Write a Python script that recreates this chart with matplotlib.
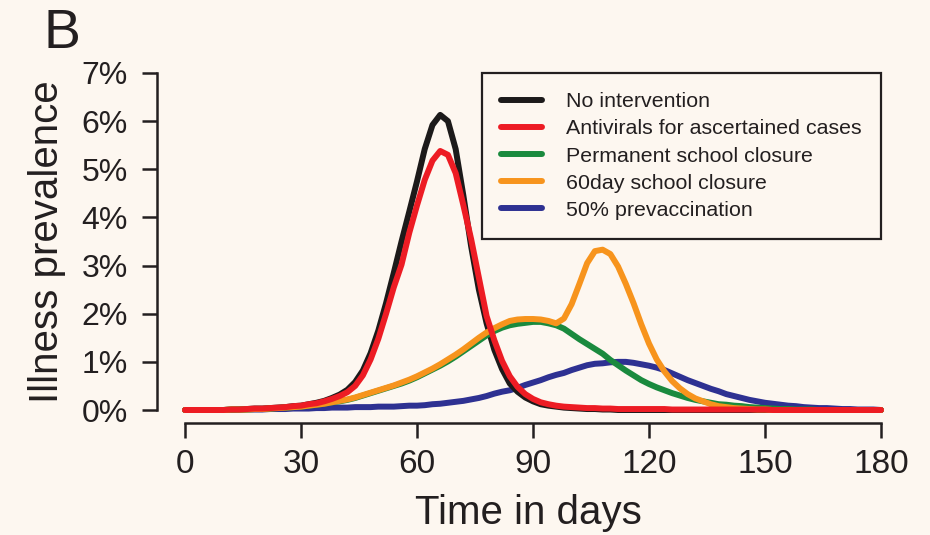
import matplotlib
matplotlib.use("Agg")
import matplotlib.pyplot as plt
from matplotlib.ticker import FixedLocator, FuncFormatter

# Simulated illness prevalence (%) every second day for each intervention scenario
days = list(range(0, 181, 2))

no_intervention = [
    0.00, 0.00, 0.00, 0.00, 0.00, 0.00, 0.01, 0.01, 0.02, 0.03,
    0.03, 0.04, 0.05, 0.06, 0.08, 0.09, 0.12, 0.15, 0.19, 0.25,
    0.32, 0.42, 0.58, 0.82, 1.18, 1.65, 2.22, 2.85, 3.50, 4.12,
    4.75, 5.42, 5.92, 6.13, 6.00, 5.42, 4.45, 3.40, 2.50, 1.80,
    1.25, 0.85, 0.55, 0.38, 0.26, 0.18, 0.12, 0.09, 0.07, 0.05,
    0.04, 0.03, 0.02, 0.02, 0.01, 0.01, 0.00, 0.00, 0.00, 0.00,
    0.00, 0.00, 0.00, 0.00, 0.00, 0.00, 0.00, 0.00, 0.00, 0.00,
    0.00, 0.00, 0.00, 0.00, 0.00, 0.00, 0.00, 0.00, 0.00, 0.00,
    0.00, 0.00, 0.00, 0.00, 0.00, 0.00, 0.00, 0.00, 0.00, 0.00,
    0.00,
]
antivirals = [
    0.00, 0.00, 0.00, 0.00, 0.00, 0.00, 0.01, 0.01, 0.02, 0.03,
    0.03, 0.04, 0.05, 0.06, 0.08, 0.09, 0.12, 0.14, 0.18, 0.23,
    0.29, 0.37, 0.50, 0.72, 1.05, 1.48, 2.00, 2.55, 3.02, 3.68,
    4.25, 4.78, 5.18, 5.38, 5.30, 4.92, 4.25, 3.55, 2.75, 1.95,
    1.45, 1.02, 0.70, 0.48, 0.33, 0.23, 0.16, 0.12, 0.09, 0.07,
    0.06, 0.05, 0.04, 0.04, 0.03, 0.03, 0.02, 0.02, 0.02, 0.02,
    0.02, 0.02, 0.02, 0.01, 0.01, 0.01, 0.01, 0.01, 0.01, 0.01,
    0.01, 0.01, 0.01, 0.01, 0.01, 0.01, 0.00, 0.00, 0.00, 0.00,
    0.00, 0.00, 0.00, 0.00, 0.00, 0.00, 0.00, 0.00, 0.00, 0.00,
    0.00,
]
permanent_closure = [
    0.00, 0.00, 0.00, 0.00, 0.00, 0.00, 0.01, 0.01, 0.01, 0.02,
    0.02, 0.03, 0.04, 0.05, 0.06, 0.07, 0.09, 0.11, 0.13, 0.16,
    0.18, 0.21, 0.25, 0.30, 0.35, 0.40, 0.45, 0.50, 0.55, 0.61,
    0.68, 0.76, 0.84, 0.92, 1.01, 1.11, 1.22, 1.33, 1.44, 1.55,
    1.64, 1.71, 1.76, 1.79, 1.81, 1.83, 1.83, 1.80, 1.76, 1.69,
    1.58, 1.47, 1.37, 1.27, 1.17, 1.04, 0.93, 0.82, 0.72, 0.62,
    0.54, 0.47, 0.41, 0.35, 0.30, 0.25, 0.21, 0.18, 0.15, 0.12,
    0.11, 0.09, 0.08, 0.06, 0.05, 0.04, 0.03, 0.02, 0.02, 0.01,
    0.01, 0.01, 0.00, 0.00, 0.00, 0.00, 0.00, 0.00, 0.00, 0.00,
    0.00,
]
closure_60day = [
    0.00, 0.00, 0.00, 0.00, 0.00, 0.00, 0.01, 0.01, 0.01, 0.02,
    0.02, 0.03, 0.04, 0.05, 0.06, 0.07, 0.09, 0.11, 0.13, 0.16,
    0.19, 0.22, 0.26, 0.31, 0.36, 0.41, 0.46, 0.51, 0.57, 0.63,
    0.70, 0.78, 0.86, 0.95, 1.05, 1.15, 1.26, 1.38, 1.50, 1.61,
    1.70, 1.78, 1.85, 1.88, 1.89, 1.89, 1.88, 1.85, 1.80, 1.90,
    2.20, 2.62, 3.05, 3.30, 3.33, 3.24, 2.98, 2.62, 2.22, 1.78,
    1.38, 1.05, 0.80, 0.60, 0.45, 0.33, 0.24, 0.18, 0.12, 0.08,
    0.06, 0.04, 0.03, 0.02, 0.01, 0.01, 0.00, 0.00, 0.00, 0.00,
    0.00, 0.00, 0.00, 0.00, 0.00, 0.00, 0.00, 0.00, 0.00, 0.00,
    0.00,
]
prevaccination = [
    0.00, 0.00, 0.00, 0.00, 0.00, 0.00, 0.00, 0.01, 0.01, 0.01,
    0.01, 0.02, 0.02, 0.02, 0.03, 0.03, 0.03, 0.04, 0.04, 0.05,
    0.05, 0.05, 0.06, 0.06, 0.06, 0.07, 0.07, 0.07, 0.08, 0.09,
    0.09, 0.10, 0.12, 0.13, 0.15, 0.17, 0.19, 0.22, 0.25, 0.29,
    0.34, 0.38, 0.41, 0.46, 0.52, 0.57, 0.62, 0.68, 0.73, 0.77,
    0.83, 0.88, 0.93, 0.96, 0.97, 0.99, 1.00, 1.00, 0.98, 0.95,
    0.92, 0.88, 0.83, 0.76, 0.69, 0.62, 0.56, 0.50, 0.44, 0.39,
    0.33, 0.29, 0.25, 0.21, 0.18, 0.15, 0.13, 0.11, 0.09, 0.08,
    0.06, 0.05, 0.04, 0.04, 0.03, 0.02, 0.02, 0.01, 0.01, 0.01,
    0.00,
]

labels = [
    "No intervention",
    "Antivirals for ascertained cases",
    "Permanent school closure",
    "60day school closure",
    "50% prevaccination",
]
colors = ["#1c1a1a", "#ed1c24", "#1a8a3e", "#f7941d", "#2e3192"]
x_ticks = [0, 30, 60, 90, 120, 150, 180]
y_ticks = [0, 1, 2, 3, 4, 5, 6, 7]

BG = "#fdf7f0"
INK = "#231f20"
W, H = 930, 535
DPI = 100

plt.rcParams["font.family"] = ["Liberation Sans", "DejaVu Sans"]

fig = plt.figure(figsize=(W / DPI, H / DPI), dpi=DPI, facecolor=BG)

# axes box in pixels: left, right, top, bottom (measured from the top edge)
ax_l, ax_r, ax_t, ax_b = 157, 900, 60, 423
ax = fig.add_axes([ax_l / W, 1 - ax_b / H, (ax_r - ax_l) / W, (ax_b - ax_t) / H])
ax.set_facecolor(BG)

# day 0 sits at x=185 px, day 180 at x=881 px; 0% at y=410 px, 7% at y=73 px
px_per_day = (881 - 185) / 180.0
px_per_pct = (410 - 73) / 7.0
ax.set_xlim(-(185 - ax_l) / px_per_day, 180 + (ax_r - 881) / px_per_day)
ax.set_ylim(-(ax_b - 410) / px_per_pct, 7 + (73 - ax_t) / px_per_pct)

series = [no_intervention, antivirals, permanent_closure, closure_60day, prevaccination]
zorders = [3, 6, 4, 5, 2]
for vals, c, lab, z in zip(series, colors, labels, zorders):
    ax.plot(days, vals, color=c, lw=4.3, label=lab, zorder=z,
            solid_capstyle="round", solid_joinstyle="round")

for s in ["top", "right"]:
    ax.spines[s].set_visible(False)
ax.spines["left"].set_bounds(0, 7)
ax.spines["bottom"].set_bounds(0, 180)
for s in ["left", "bottom"]:
    ax.spines[s].set_linewidth(1.8)
    ax.spines[s].set_color(INK)

ax.xaxis.set_major_locator(FixedLocator(x_ticks))
ax.yaxis.set_major_locator(FixedLocator(y_ticks))
ax.yaxis.set_major_formatter(FuncFormatter(lambda v, p: f"{int(v)}%"))
ax.tick_params(axis="both", direction="out", length=10.8, width=1.8,
               color=INK, labelcolor=INK)
ax.tick_params(axis="y", labelsize=23, pad=10)
ax.tick_params(axis="x", labelsize=24, pad=8)

ax.set_xlabel("Time in days", fontsize=29, color=INK, labelpad=10)
ax.set_ylabel("Illness prevalence", fontsize=29, color=INK, labelpad=11)

leg = ax.legend(
    loc="upper left",
    bbox_to_anchor=(482 / W, 1 - 73 / H),
    bbox_transform=fig.transFigure,
    fontsize=15.4,
    frameon=True,
    fancybox=False,
    edgecolor=INK,
    facecolor=BG,
    framealpha=1,
    handlelength=1.9,
    handletextpad=1.15,
    borderpad=0.9,
    labelspacing=0.38,
    borderaxespad=0,
)
leg.get_frame().set_linewidth(1.6)
for t in leg.get_texts():
    t.set_color(INK)
for h in leg.legend_handles:
    h.set_linewidth(4.3)
    h.set_solid_capstyle("round")
leg.set_zorder(10)

fig.text(43 / W, 1 - 8 / H, "B", fontsize=40, color=INK, ha="left", va="top")

fig.savefig("out.png", dpi=DPI, facecolor=BG)
